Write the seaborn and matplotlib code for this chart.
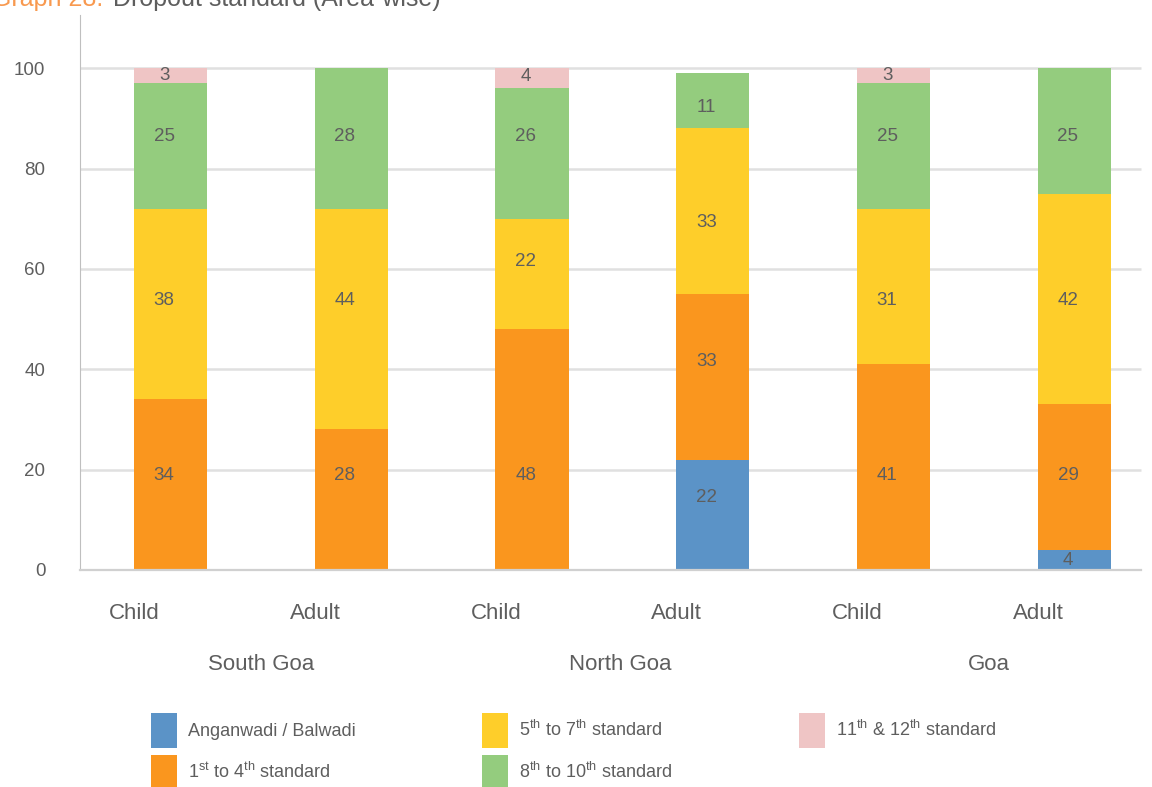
import numpy as np
import pandas as pd
import matplotlib
matplotlib.use('Agg')
import matplotlib.pyplot as plt
import seaborn as sns
from matplotlib.patches import Patch

# data (percent of dropouts by standard)
bars = ['South Goa Child', 'South Goa Adult', 'North Goa Child',
        'North Goa Adult', 'Goa Child', 'Goa Adult']
groups = ['Child', 'Adult', 'Child', 'Adult', 'Child', 'Adult']
areas = ['South Goa', 'North Goa', 'Goa']
anganwadi = [0, 0, 0, 22, 0, 4]
std_1_4 = [34, 28, 48, 33, 41, 29]
std_5_7 = [38, 44, 22, 33, 31, 42]
std_8_10 = [25, 28, 26, 11, 25, 25]
std_11_12 = [3, 0, 4, 0, 3, 0]

# where the value labels sit in the original (in axis units)
label_y = [
    [0, 0, 0, 14.5, 0, 1.8],
    [18.9, 18.9, 18.9, 41.6, 18.9, 18.9],
    [53.8, 53.8, 61.4, 69.3, 53.8, 53.8],
    [86.3, 86.3, 86.3, 92.2, 86.3, 86.3],
    [98.6, 0, 98.3, 0, 98.6, 0],
]

layers = [anganwadi, std_1_4, std_5_7, std_8_10, std_11_12]
names = ['Anganwadi / Balwadi',
         r'1$^{\mathrm{st}}$ to 4$^{\mathrm{th}}$ standard',
         r'5$^{\mathrm{th}}$ to 7$^{\mathrm{th}}$ standard',
         r'8$^{\mathrm{th}}$ to 10$^{\mathrm{th}}$ standard',
         r'11$^{\mathrm{th}}$ & 12$^{\mathrm{th}}$ standard']
colors = ['#5B93C7', '#FA961E', '#FECE2A', '#94CC7E', '#EFC5C5']

sns.set_style('white')
plt.rcParams['font.family'] = ['Liberation Sans', 'DejaVu Sans']
plt.rcParams['mathtext.fontset'] = 'custom'
plt.rcParams['mathtext.rm'] = 'Liberation Sans'
grey = '#5E5E5E'

fig = plt.figure(figsize=(11.52, 7.87), dpi=100)
ax = fig.add_axes([80 / 1152, 1 - 570 / 787, 1 - 80 / 1152, 555 / 787])

# light horizontal gridlines
ax.hlines([20, 40, 60, 80, 100], -0.5, 5.37, color='#E0E0E0', lw=1.8, zorder=0)

bottom = np.zeros(len(bars))
for vals, ly, col in zip(layers, label_y, colors):
    df = pd.DataFrame({'bar': bars, 'val': vals})
    sns.barplot(data=df, x='bar', y='val', order=bars, bottom=bottom,
                color=col, width=0.405, errorbar=None, linewidth=0,
                saturation=1, ax=ax, zorder=2)
    for i, v in enumerate(vals):
        if v > 0:
            ax.text(i - 0.035, ly[i], str(v), ha='center', va='center',
                    fontsize=13.5, color=grey, zorder=3)
    bottom = bottom + np.array(vals)

ax.set_xlim(-0.5, 5.43)
ax.set_ylim(0, 110.6)
ax.set_xlabel('')
ax.set_ylabel('')

ax.set_yticks([0, 20, 40, 60, 80, 100])
ax.tick_params(axis='y', length=0, pad=25, labelsize=13.5, labelcolor=grey)

ax.set_xticks([i - 0.2 for i in range(6)])
ax.set_xticklabels(groups)
ax.set_xticks([i - 0.5 for i in range(6)], minor=True)
ax.tick_params(axis='x', which='major', length=0, pad=24, labelsize=16, labelcolor=grey)
ax.tick_params(axis='x', which='minor', length=14.5, width=1, color='#BFBFBF', direction='out')

for s in ['top', 'right']:
    ax.spines[s].set_visible(False)
ax.spines['left'].set_color('#BFBFBF')
ax.spines['bottom'].set_color('#D0D0D0')
ax.spines['bottom'].set_linewidth(1.6)
ax.spines['bottom'].set_bounds(-0.5, 5.37)

for x, a in zip([0.5, 2.49, 4.53], areas):
    ax.text(x, -95 / 555, a, transform=ax.get_xaxis_transform(), ha='center',
            va='center', fontsize=16, color=grey)

handles = [Patch(facecolor=c, edgecolor='none') for c in colors]
fig.legend(handles, names, loc='upper left', bbox_to_anchor=(151 / 1152, 1 - 713 / 787),
           ncol=3, frameon=False, fontsize=13, labelcolor=grey, handlelength=1.45,
           handleheight=2.6, handletextpad=0.6, labelspacing=0.4,
           columnspacing=7.0, borderpad=0, borderaxespad=0)

# title, clipped at the top in the original
fig.text(-8 / 1152, 1 - 6 / 787, 'Graph 28:', color='#F8994F', fontsize=18, va='baseline')
fig.text(113 / 1152, 1 - 6 / 787, 'Dropout standard (Area-wise)', color=grey,
         fontsize=18, va='baseline')

fig.savefig('out.png', dpi=100)
